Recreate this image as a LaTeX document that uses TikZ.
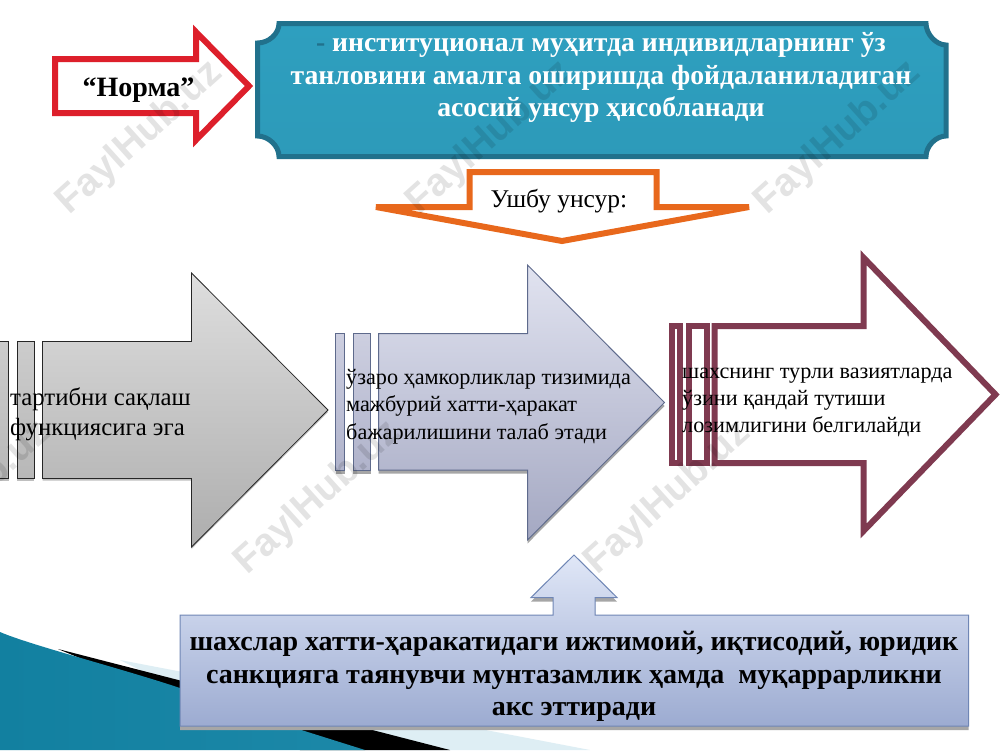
\documentclass[tikz,border=0pt]{standalone}
\usepackage{fontspec}
\setmainfont{Liberation Serif}
\newfontfamily\wmfont{Liberation Sans}
\definecolor{plaqueline}{HTML}{21718C}
\definecolor{plaquefill}{HTML}{2E9FBF}
\definecolor{normred}{HTML}{DD1F2B}
\definecolor{calloutor}{HTML}{E8681C}
\definecolor{maroonln}{HTML}{7F3A50}
\definecolor{blueln}{HTML}{5E6A8C}
\definecolor{boxln}{HTML}{6F86B5}
\definecolor{HTMLa}{HTML}{E1E3F0}
\definecolor{HTMLb}{HTML}{A4A8C2}
\definecolor{HTMLc}{HTML}{E0E7F7}
\definecolor{HTMLd}{HTML}{9CABD1}
\definecolor{HTMLe}{HTML}{CDCFE0}
\definecolor{HTMLf}{HTML}{B0B3CB}
\tikzset{
  grayarrow/.style={draw=black!85,line width=.8pt,top color=black!13,bottom color=black!32,
    preaction={fill=black!25,transform canvas={yshift=-2pt}}},
  grayslat/.style={draw=black!85,line width=.8pt,top color=black!20,bottom color=black!28,
    preaction={fill=black!25,transform canvas={yshift=-2pt}}},
  bluearrow/.style={draw=blueln,line width=1pt,top color=HTMLa,bottom color=HTMLb,
    preaction={fill=black!35,transform canvas={yshift=-3.5pt}}},
  blueslat/.style={draw=blueln,line width=1pt,top color=HTMLe,bottom color=HTMLf,
    preaction={fill=black!35,transform canvas={yshift=-3.5pt}}},
  marrow/.style={draw=maroonln,line width=6pt,miter limit=10},
  wmark/.style={font=\wmfont\bfseries\fontsize{39}{39}\selectfont,text=black,opacity=.11,rotate=42},
  plaintext/.style={align=left,inner sep=0pt,text=black},
}
\begin{document}
\begin{tikzpicture}[x=1pt,y=-1pt]
\useasboundingbox (0,0) rectangle (1000,750);
\clip (0,0) rectangle (1000,750);
% background swoosh
\fill[fill=white] (0,0) rectangle (1000,750);
\fill[color={rgb,255:red,222;green,238;blue,244}] (120,660) -- (590,750) -- (300,750) -- cycle;
\fill[black] (58,649) -- (450,750) -- (300,750) -- cycle;
\shade[left color={rgb,255:red,18;green,128;blue,160},middle color={rgb,255:red,80;green,186;blue,218},right color={rgb,255:red,28;green,136;blue,168}]
  (0,632) .. controls (30,645) and (120,668) .. (180,688) -- (295,728) -- (365,750) -- (0,750) -- cycle;
% plaque
\shade[draw=plaqueline,line width=5pt,top color=plaquefill,bottom color=plaquefill!97!black]
  (257.5,43) .. controls (268.5,43) and (279,34) .. (279,23.5)
  -- (926,23.5) .. controls (926,34) and (936,45) .. (946,45)
  -- (946,136) .. controls (936,136) and (926,146) .. (926,156.5)
  -- (279,156.5) .. controls (279,146) and (268.5,136) .. (257.5,136) -- cycle;
% red arrow
\draw[normred,line width=6pt,fill=white] (55,59) -- (196,59) -- (196,32) -- (249,86) -- (196,140) -- (196,113) -- (55,113) -- cycle;
% orange callout
\draw[calloutor,line width=6pt,fill=white] (469.5,172) -- (656.5,172) -- (656.5,207) -- (749,207) -- (562,241) -- (376,207) -- (469.5,207) -- cycle;
% grey arrow
\shade[grayslat] (-5,341.5) rectangle (8.5,478.5);
\shade[grayslat] (17,341.5) rectangle (34,478.5);
\shade[grayarrow] (42.5,341.5) -- (191.5,341.5) -- (191.5,273) -- (328,410) -- (191.5,547) -- (191.5,478.5) -- (42.5,478.5) -- cycle;
% blue arrow
\shade[blueslat] (335.5,333.5) rectangle (344.5,470);
\shade[blueslat] (353,333.5) rectangle (370.5,470);
\shade[bluearrow] (378.5,333.5) -- (527.5,333.5) -- (527.5,265) -- (664.5,402.5) -- (527.5,540) -- (527.5,470) -- (378.5,470) -- cycle;
% maroon arrow
\draw[marrow] (672,326) rectangle (680,463);
\draw[marrow] (689,326) rectangle (706.5,463);
\draw[marrow] (714.5,326) -- (863.5,326) -- (863.5,257.6) -- (995.5,394.5) -- (863.5,531) -- (863.5,463) -- (714.5,463) -- cycle;
% bottom box with up arrow
\shade[draw=boxln,line width=1pt,top color=HTMLc,bottom color=HTMLd,
    preaction={fill=black!35,transform canvas={yshift=-4pt}}]
  (180,615) -- (553,615) -- (553,597.5) -- (531,597.5) -- (574,555) -- (617,597.5) -- (595,597.5) -- (595,615) -- (968.5,615) -- (968.5,726) -- (180,726) -- cycle;
% watermarks
\node[wmark] (wm1) at (140,138) {FaylHub.uz};
\node[wmark] (wm2) at (490,138) {FaylHub.uz};
\node[wmark] (wm3) at (838,138) {FaylHub.uz};
\node[wmark] (wm4) at (-32,498) {FaylHub.uz};
\node[wmark] (wm5) at (318,498) {FaylHub.uz};
\node[wmark] (wm6) at (668,498) {FaylHub.uz};
% texts
\node[plaintext,font=\bfseries\fontsize{27.7}{32.5}\selectfont,align=center,text=white] (t1) at (601,77.5)
  {{\color{plaqueline}-} институционал муҳитда индивидларнинг ўз\\танловини амалга оширишда фойдаланиладиган\\асосий унсур ҳисобланади};
\node[plaintext,font=\bfseries\fontsize{28}{32.5}\selectfont] (t2) at (138.5,90) {“Норма”};
\node[plaintext,font=\fontsize{25.5}{30}\selectfont] (t3) at (559,201) {Ушбу унсур:};
\node[plaintext,anchor=west,font=\fontsize{24.8}{30}\selectfont] (t4) at (10,414.5) {тартибни сақлаш\\функциясига эга};
\node[plaintext,anchor=west,font=\fontsize{22.2}{27.7}\selectfont] (t5) at (346,406.5) {ўзаро ҳамкорликлар тизимида\\мажбурий хатти-ҳаракат\\бажарилишини талаб этади};
\node[plaintext,anchor=west,font=\fontsize{22.2}{27}\selectfont] (t6) at (682,402) {шахснинг турли вазиятларда\\ўзини қандай тутиши\\лозимлигини белгилайди};
\node[plaintext,font=\bfseries\fontsize{28}{32.3}\selectfont,align=center] (t7) at (574,676.5) {шахслар хатти-ҳаракатидаги ижтимоий, иқтисодий, юридик\\санкцияга таянувчи мунтазамлик ҳамда\ \ муқаррарликни\\акс эттиради};
\end{tikzpicture}
\end{document}
